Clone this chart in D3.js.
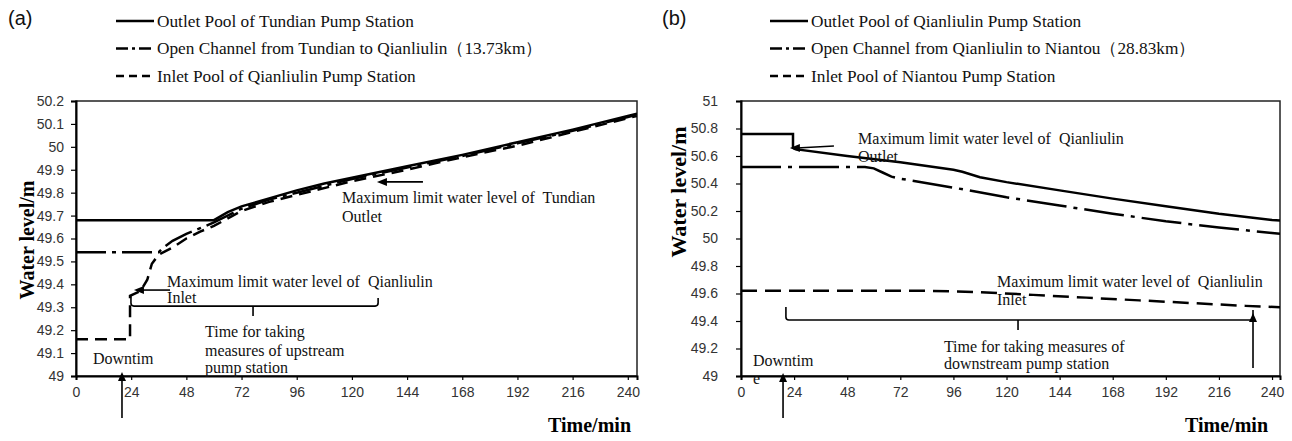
<!DOCTYPE html>
<html><head><meta charset="utf-8">
<script src="https://cdn.jsdelivr.net/npm/d3@7"></script>
<style>body{margin:0;background:#fff}svg{display:block}text{white-space:pre}</style>
</head><body>
<svg id="chart" width="1292" height="441"></svg>
<script>
// ---------- data ----------
const timeTicks = [0,24,48,72,96,120,144,168,192,216,240];
const aYTicks = [49,49.1,49.2,49.3,49.4,49.5,49.6,49.7,49.8,49.9,50,50.1,50.2];
const bYTicks = [49,49.2,49.4,49.6,49.8,50,50.2,50.4,50.6,50.8,51];

const aLegend = ["Outlet Pool of Tundian Pump Station",
                 "Open Channel from Tundian to Qianliulin（13.73km）",
                 "Inlet Pool of Qianliulin Pump Station"];
const bLegend = ["Outlet Pool of Qianliulin Pump Station",
                 "Open Channel from Qianliulin to Niantou（28.83km）",
                 "Inlet Pool of Niantou Pump Station"];

// panel (a): [time min, water level m]
const aOutlet = [[0,49.68],[60,49.68],[66,49.715],[72,49.74],[84,49.775],[96,49.81],[108,49.84],[120,49.865],[144,49.915],[168,49.965],[192,50.02],[216,50.075],[240,50.135],[244,50.145]];
const aChannel = [[0,49.54],[36,49.54],[38,49.56],[42,49.59],[48,49.62],[54,49.645],[60,49.67],[72,49.73],[84,49.77],[96,49.8],[120,49.86],[144,49.91],[168,49.96],[192,50.015],[216,50.07],[240,50.13],[244,50.14]];
const aInlet = [[0,49.16],[23.5,49.16],[23.5,49.35],[28,49.37],[31,49.42],[33,49.49],[36,49.53],[42,49.56],[48,49.6],[54,49.63],[60,49.655],[72,49.72],[84,49.76],[96,49.79],[120,49.85],[144,49.9],[168,49.955],[192,50.005],[216,50.065],[240,50.125],[244,50.135]];

// panel (b)
const bOutlet = [[0,50.76],[23.5,50.76],[23.5,50.66],[24.5,50.65],[48,50.6],[72,50.555],[96,50.5],[100,50.485],[108,50.445],[120,50.41],[144,50.35],[168,50.29],[192,50.235],[216,50.18],[240,50.135],[243.6,50.13]];
const bChannel = [[0,50.52],[56,50.52],[60,50.51],[64,50.48],[68,50.45],[72,50.435],[96,50.37],[120,50.3],[144,50.24],[168,50.18],[192,50.125],[216,50.08],[240,50.04],[243.6,50.035]];
const bInlet = [[0,49.62],[84,49.62],[108,49.61],[132,49.59],[156,49.57],[180,49.55],[204,49.53],[228,49.51],[243.6,49.5]];

// ---------- drawing ----------
const svg = d3.select("#chart");
const SERIF = "'Liberation Serif','Times New Roman',serif";
const SANS = "'Liberation Sans',Arial,sans-serif";

function tri(g, x, y, dir, w, h){ // arrowhead with tip at (x,y)
  let p;
  if(dir==="up") p=[[x,y],[x-w/2,y+h],[x+w/2,y+h]];
  else if(dir==="left") p=[[x,y],[x+h,y-w/2],[x+h,y+w/2]];
  g.append("path").attr("d","M"+p.map(d=>d.join(",")).join("L")+"Z").attr("fill","#000");
}

function panel(cfg){
  const g = svg.append("g");
  const x = d3.scaleLinear().domain(cfg.xDomain).range(cfg.xRange);
  const y = d3.scaleLinear().domain(cfg.yDomain).range([376,101]);
  const [x0,x1] = cfg.xRange;

  // plot box
  g.append("rect").attr("x",x0).attr("y",101).attr("width",x1-x0).attr("height",275)
    .attr("fill","none").attr("stroke","#222").attr("stroke-width",1.5);

  // y axis
  const ya = g.append("g").attr("transform",`translate(${x0},0)`)
    .call(d3.axisLeft(y).tickValues(cfg.yTicks).tickSize(5).tickPadding(cfg.yPad).tickFormat(d3.format("~g")));
  ya.select(".domain").attr("stroke","#000").attr("stroke-width",2);
  ya.selectAll(".tick line").attr("stroke","#000").attr("stroke-width",1.2);
  ya.selectAll("text").attr("font-family",SANS).attr("font-size",14).attr("fill","#333");

  // x axis
  const xa = g.append("g").attr("transform","translate(0,376)")
    .call(d3.axisBottom(x).tickValues(timeTicks).tickSize(4).tickPadding(7));
  xa.select(".domain").attr("stroke","#000").attr("stroke-width",2);
  xa.selectAll(".tick line").attr("stroke","#000").attr("stroke-width",1.2);
  xa.selectAll("text").attr("font-family",SANS).attr("font-size",14).attr("fill","#333");

  // clip
  const cid = "clip"+cfg.id;
  svg.append("clipPath").attr("id",cid).append("rect").attr("x",x0).attr("y",101).attr("width",x1-x0).attr("height",275);
  const line = d3.line().x(d=>x(d[0])).y(d=>y(d[1]));
  const lg = g.append("g").attr("clip-path",`url(#${cid})`);
  cfg.series.forEach(s=>{
    lg.append("path").datum(s.data).attr("d",line).attr("fill","none")
      .attr("stroke","#000").attr("stroke-width",2.5).attr("stroke-dasharray",s.dash||null);
  });

  // legend
  cfg.legend.forEach((txt,i)=>{
    const ly = cfg.legY + i*27.5;
    g.append("line").attr("x1",cfg.legX).attr("x2",cfg.legX+38).attr("y1",ly).attr("y2",ly)
      .attr("stroke","#000").attr("stroke-width",2.3).attr("stroke-dasharray",cfg.legDash[i]);
    g.append("text").attr("x",cfg.legX+41).attr("y",ly+5.5).text(txt)
      .attr("font-family",SERIF).attr("font-size",17.3).attr("fill","#111");
  });
  g.append("text").attr("x",cfg.labX).attr("y",25).text(cfg.label)
    .attr("font-family",SANS).attr("font-size",20).attr("fill","#111");

  // axis titles
  g.append("text").attr("transform",`translate(${cfg.ytX},${cfg.ytY}) rotate(-90)`)
    .attr("text-anchor","middle").text("Water level/m")
    .attr("font-family",SERIF).attr("font-weight","bold").attr("font-size",cfg.ytSize).attr("fill","#000");
  g.append("text").attr("x",cfg.xtX).attr("y",432).attr("text-anchor","end").text("Time/min")
    .attr("font-family",SERIF).attr("font-weight","bold").attr("font-size",20).attr("fill","#000");

  // annotations (in data units)
  const ag = g.append("g");
  const T = (t,v,s)=>ag.append("text").attr("x",x(t)).attr("y",y(v)).text(s)
      .attr("font-family",SERIF).attr("font-size",16).attr("fill","#111");
  cfg.texts.forEach(d=>T(d[0],d[1],d[2]));
  cfg.arrowsLeft.forEach(a=>{
    ag.append("line").attr("x1",x(a[0])).attr("y1",y(a[2])).attr("x2",x(a[1])+7).attr("y2",y(a[3]))
      .attr("stroke","#000").attr("stroke-width",1.6);
    tri(ag,x(a[1]),y(a[3]),"left",8,10);
  });
  cfg.arrowsUp.forEach(a=>{
    ag.append("line").attr("x1",x(a[0])).attr("y1",y(a[1])).attr("x2",x(a[0])).attr("y2",y(a[2])+7)
      .attr("stroke","#000").attr("stroke-width",1.6);
    tri(ag,x(a[0]),y(a[2]),"up",8,9);
  });
  const b = cfg.bracket; // [tL,tR,v,vTopL,vTopR,tMid,vMid]
  ag.append("path").attr("d",
    `M${x(b[0])},${y(b[3])}L${x(b[0])},${y(b[2])-3}Q${x(b[0])},${y(b[2])} ${x(b[0])+3},${y(b[2])}`+
    `L${x(b[1])-3},${y(b[2])}Q${x(b[1])},${y(b[2])} ${x(b[1])},${y(b[2])-3}L${x(b[1])},${y(b[4])}`+
    `M${x(b[5])},${y(b[2])}L${x(b[5])},${y(b[6])}`)
    .attr("fill","none").attr("stroke","#000").attr("stroke-width",1.6);
}

panel({
  id:"a", label:"(a)", labX:8, xDomain:[0,244], xRange:[76,637], yDomain:[49,50.2],
  yTicks:aYTicks, yPad:7, legend:aLegend, legX:116, legY:21, legDash:[null,"12,4,3,4","8,5"],
  series:[{data:aOutlet},{data:aChannel,dash:"30,6,4,6"},{data:aInlet,dash:"12,7"}],
  ytX:34, ytY:240, ytSize:20, xtX:631,
  texts:[[115.7,49.755,"Maximum limit water level of  Tundian"],[115.7,49.672,"Outlet"],
         [39.6,49.388,"Maximum limit water level of  Qianliulin"],[39.6,49.319,"Inlet"],
         [56.1,49.17,"Time for taking"],[56.1,49.087,"measures of upstream"],[56.1,49.013,"pump station"],
         [7.4,49.052,"Downtim"]],
  arrowsLeft:[[150.9,130.9,49.847,49.847],[40.9,25.2,49.375,49.375]],
  arrowsUp:[[20,48.817,49.017]],
  bracket:[23.9,131.4,49.305,49.353,49.34,77,49.262]
});

panel({
  id:"b", label:"(b)", labX:662, xDomain:[0,243.6], xRange:[741,1280], yDomain:[49,51],
  yTicks:bYTicks, yPad:18, legend:bLegend, legX:770, legY:21, legDash:[null,"12,4,3,4","8,5"],
  series:[{data:bOutlet},{data:bChannel,dash:"40,7,4,7"},{data:bInlet,dash:"16,8"}],
  ytX:686, ytY:192, ytSize:22, xtX:1268,
  texts:[[52.9,50.687,"Maximum limit water level of  Qianliulin"],[52.9,50.556,"Outlet"],
         [115.7,49.647,"Maximum limit water level of  Qianliulin"],[115.7,49.516,"Inlet"],
         [91.7,49.175,"Time for taking measures of"],[91.7,49.051,"downstream pump station"],
         [5.4,49.073,"Downtim"],[5.4,48.942,"e"]],
  arrowsLeft:[[42,22.1,50.673,50.658]],
  arrowsUp:[[19,48.695,49.022],[231.4,49.058,49.458]],
  bracket:[20.3,231.4,49.407,49.502,49.48,125.2,49.335]
});
</script>
</body></html>
